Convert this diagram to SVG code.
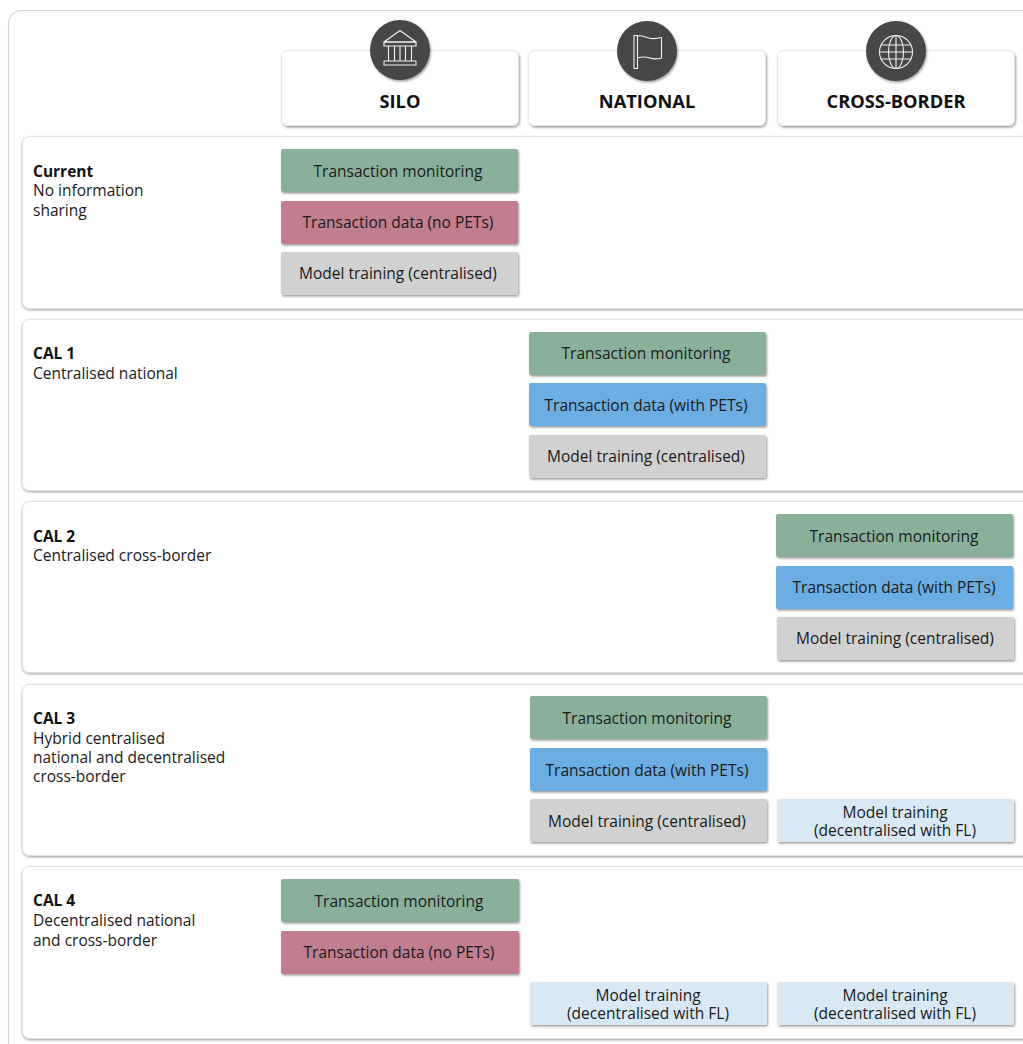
<svg xmlns="http://www.w3.org/2000/svg" width="1023" height="1044" viewBox="0 0 1023 1044">
<defs>
<filter id="sh" x="-5%" y="-10%" width="110%" height="125%"><feDropShadow dx="1" dy="1.5" stdDeviation="1.1" flood-color="#000" flood-opacity="0.4"/></filter>
<filter id="sh2" x="-5%" y="-5%" width="110%" height="110%"><feDropShadow dx="0" dy="1.2" stdDeviation="0.9" flood-color="#000" flood-opacity="0.35"/></filter>
</defs>
<style>
text{font-family:"Open Sans","Noto Sans","Liberation Sans",sans-serif;font-size:15.500px;font-weight:500;fill:#1a1a1a}
.c{text-anchor:middle}
.b{font-weight:700;fill:#111}
.h{font-weight:700;font-size:18.300px;fill:#111;text-anchor:middle}
.row{fill:#fff;stroke:#e2e2e2;stroke-width:1;filter:url(#sh2)}
.head{fill:#fff;stroke:#e8e8e8;stroke-width:1;filter:url(#sh)}
.g{fill:#8ab09a;filter:url(#sh)}
.r{fill:#c27d8f;filter:url(#sh)}
.s{fill:#d1d1d1;filter:url(#sh)}
.p{fill:#6cade2;filter:url(#sh)}
.l{fill:#d8e9f5;filter:url(#sh)}
.ic{fill:none;stroke:#f2f2f2;stroke-width:1.100;stroke-linejoin:round}
.disc{fill:#474747;filter:url(#sh)}
</style>
<rect width="1023" height="1044" fill="#fff"/>
<rect id="outer" x="8.500" y="10.500" width="1040" height="1060" rx="13" fill="#fff" stroke="#d6d6d6" stroke-width="1.200"/>

<g id="head-silo">
<rect class="head" x="281.500" y="50.500" width="237" height="75" rx="6"/>
<circle class="disc" cx="400" cy="50" r="30"/>
<g class="ic"><path d="M400 30.500L384 42H416Z"/><rect x="384" y="42" width="32" height="4"/><path d="M388.500 46V61M394.500 46V61M400 46V61M405.500 46V61M411.500 46V61"/><rect x="384" y="61" width="32" height="4"/></g>
<text class="h" x="400" y="108">SILO</text>
</g>
<g id="head-national">
<rect class="head" x="528.500" y="50.500" width="237" height="75" rx="6"/>
<circle class="disc" cx="647" cy="51" r="30"/>
<g class="ic"><path d="M634 35.500H637.500V68.500H634Z"/><path d="M637.500 36C642 34.500 646 38 651 38.500C654 38.800 658 38.500 661.500 37.500V58C657 59.200 653 59 650 58C646 56.800 642 56.500 637.500 58"/></g>
<text class="h" x="647" y="108">NATIONAL</text>
</g>
<g id="head-cross">
<rect class="head" x="777.500" y="50.500" width="237" height="75" rx="6"/>
<circle class="disc" cx="896" cy="51" r="30"/>
<g class="ic"><circle cx="896" cy="52" r="16.500"/><ellipse cx="896" cy="52" rx="7.500" ry="16.500"/><path d="M881.500 45H910.500M881.500 59H910.500M896 35.500V68.500M879.500 52H912.500"/></g>
<text class="h" x="896" y="108">CROSS-BORDER</text>
</g>

<g id="row-current">
<rect class="row" x="22.500" y="136.500" width="1030" height="172" rx="7"/>
<text x="33" y="177"><tspan class="b">Current</tspan><tspan x="33" y="196">No information</tspan><tspan x="33" y="216">sharing</tspan></text>
<rect class="g" x="281" y="149" width="237" height="43" rx="2"/><text class="c" x="398" y="177">Transaction monitoring</text>
<rect class="r" x="281" y="201" width="237" height="43" rx="2"/><text class="c" x="398" y="228">Transaction data (no PETs)</text>
<rect class="s" x="281" y="252" width="237" height="43" rx="2"/><text class="c" x="398" y="279">Model training (centralised)</text>
</g>

<g id="row-cal1">
<rect class="row" x="22.500" y="319.500" width="1030" height="171" rx="7"/>
<text x="33" y="359"><tspan class="b">CAL 1</tspan><tspan x="33" y="379">Centralised national</tspan></text>
<rect class="g" x="529" y="332" width="237" height="43" rx="2"/><text class="c" x="646" y="359">Transaction monitoring</text>
<rect class="p" x="529" y="383" width="237" height="43" rx="2"/><text class="c" x="646" y="411">Transaction data (with PETs)</text>
<rect class="s" x="529" y="435" width="237" height="43" rx="2"/><text class="c" x="646" y="462">Model training (centralised)</text>
</g>

<g id="row-cal2">
<rect class="row" x="22.500" y="501.500" width="1030" height="171" rx="7"/>
<text x="33" y="542"><tspan class="b">CAL 2</tspan><tspan x="33" y="561">Centralised cross-border</tspan></text>
<rect class="g" x="776" y="514" width="237" height="43" rx="2"/><text class="c" x="894" y="542">Transaction monitoring</text>
<rect class="p" x="776" y="566" width="237" height="43" rx="2"/><text class="c" x="894" y="593">Transaction data (with PETs)</text>
<rect class="s" x="777" y="617" width="237" height="43" rx="2"/><text class="c" x="895" y="644">Model training (centralised)</text>
</g>

<g id="row-cal3">
<rect class="row" x="22.500" y="684.500" width="1030" height="171" rx="7"/>
<text x="33" y="724"><tspan class="b">CAL 3</tspan><tspan x="33" y="744">Hybrid centralised</tspan><tspan x="33" y="763">national and decentralised</tspan><tspan x="33" y="782">cross-border</tspan></text>
<rect class="g" x="530" y="696" width="237" height="43" rx="2"/><text class="c" x="647" y="724">Transaction monitoring</text>
<rect class="p" x="530" y="748" width="237" height="43" rx="2"/><text class="c" x="647" y="776">Transaction data (with PETs)</text>
<rect class="s" x="530" y="799" width="237" height="43" rx="2"/><text class="c" x="647" y="827">Model training (centralised)</text>
<rect class="l" x="777" y="799" width="237" height="43" rx="2"/><text class="c" x="895" y="818">Model training<tspan x="895" y="836">(decentralised with FL)</tspan></text>
</g>

<g id="row-cal4">
<rect class="row" x="22.500" y="866.500" width="1030" height="172" rx="7"/>
<text x="33" y="906"><tspan class="b">CAL 4</tspan><tspan x="33" y="926">Decentralised national</tspan><tspan x="33" y="946">and cross-border</tspan></text>
<rect class="g" x="281" y="879" width="238" height="43" rx="2"/><text class="c" x="399" y="907">Transaction monitoring</text>
<rect class="r" x="281" y="931" width="238" height="43" rx="2"/><text class="c" x="399" y="958">Transaction data (no PETs)</text>
<rect class="l" x="530" y="982" width="237" height="43" rx="2"/><text class="c" x="648" y="1001">Model training<tspan x="648" y="1019">(decentralised with FL)</tspan></text>
<rect class="l" x="777" y="982" width="237" height="43" rx="2"/><text class="c" x="895" y="1001">Model training<tspan x="895" y="1019">(decentralised with FL)</tspan></text>
</g>
</svg>
